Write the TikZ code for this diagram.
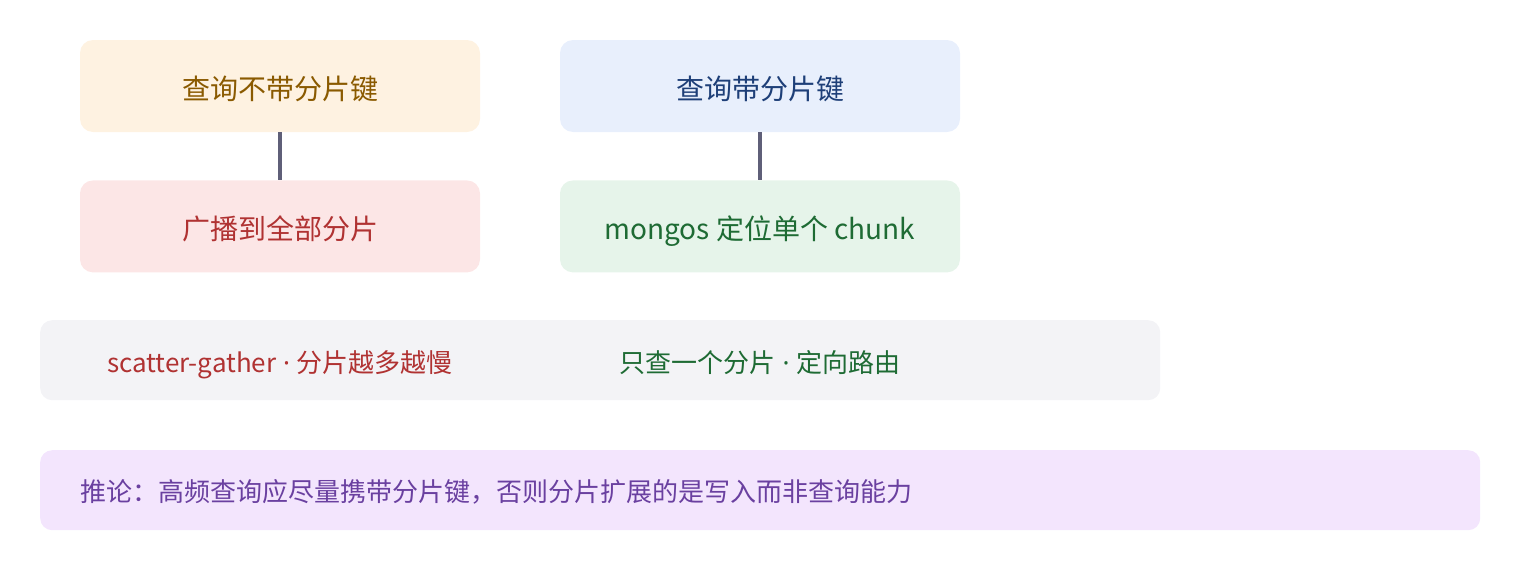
\documentclass[tikz,border=0pt]{standalone}
\usepackage{fontspec}
\setmainfont{Noto Sans CJK SC}
\newfontfamily\dotfont{Noto Sans}
\usetikzlibrary{positioning}

\definecolor{ambfill}{HTML}{FEF2E1}
\definecolor{ambtext}{HTML}{8A5A00}
\definecolor{bluefill}{HTML}{E8EFFC}
\definecolor{bluetext}{HTML}{1E3F78}
\definecolor{redfill}{HTML}{FCE6E6}
\definecolor{redtext}{HTML}{B03232}
\definecolor{grnfill}{HTML}{E6F4EA}
\definecolor{grntext}{HTML}{1E6B34}
\definecolor{barfill}{HTML}{F3F3F6}
\definecolor{purfill}{HTML}{F3E5FD}
\definecolor{purtext}{HTML}{6A40A0}
\definecolor{linkgray}{HTML}{5F5F78}

\newcommand{\middot}{{\dotfont\ ·\ }}

\begin{document}
\begin{tikzpicture}[x=1pt,y=-1pt,
	box/.style={rounded corners=13pt, minimum width=400pt, minimum height=92pt, inner sep=0pt, text height=26pt, text depth=0pt, font=\fontsize{28}{34}\selectfont},
	bar/.style={rounded corners=12pt, minimum height=80pt, inner sep=0pt, anchor=north west},
	note/.style={inner sep=0pt, text height=24pt, text depth=0pt, font=\fontsize{26}{32}\selectfont},
	link/.style={draw=linkgray, line width=3.5pt}]
\useasboundingbox (0,0) rectangle (1520,560);
\node[box, fill=ambfill, text=ambtext] (nokey) at (280,86) {查询不带分片键};
\node[box, fill=redfill, text=redtext, below=48pt of nokey] (bcast) {广播到全部分片};
\node[box, fill=bluefill, text=bluetext] (withkey) at (760,86) {查询带分片键};
\node[box, fill=grnfill, text=grntext, below=48pt of withkey] (chunk) {mongos 定位单个 chunk};
\draw[link] (nokey) -- (bcast);
\draw[link] (withkey) -- (chunk);
\node[bar, fill=barfill, minimum width=1120pt] (cost) at (40,320) {};
\node[note, text=redtext] (scatter) at (280,360) {scatter-gather\middot 分片越多越慢};
\node[note, text=grntext] (target) at (760,360) {只查一个分片\middot 定向路由};
\node[bar, fill=purfill, minimum width=1440pt] (result) at (40,450) {};
\node[note, text=purtext, anchor=west] (resulttext) at (80,489.5) {推论：高频查询应尽量携带分片键，否则分片扩展的是写入而非查询能力};
\end{tikzpicture}
\end{document}
